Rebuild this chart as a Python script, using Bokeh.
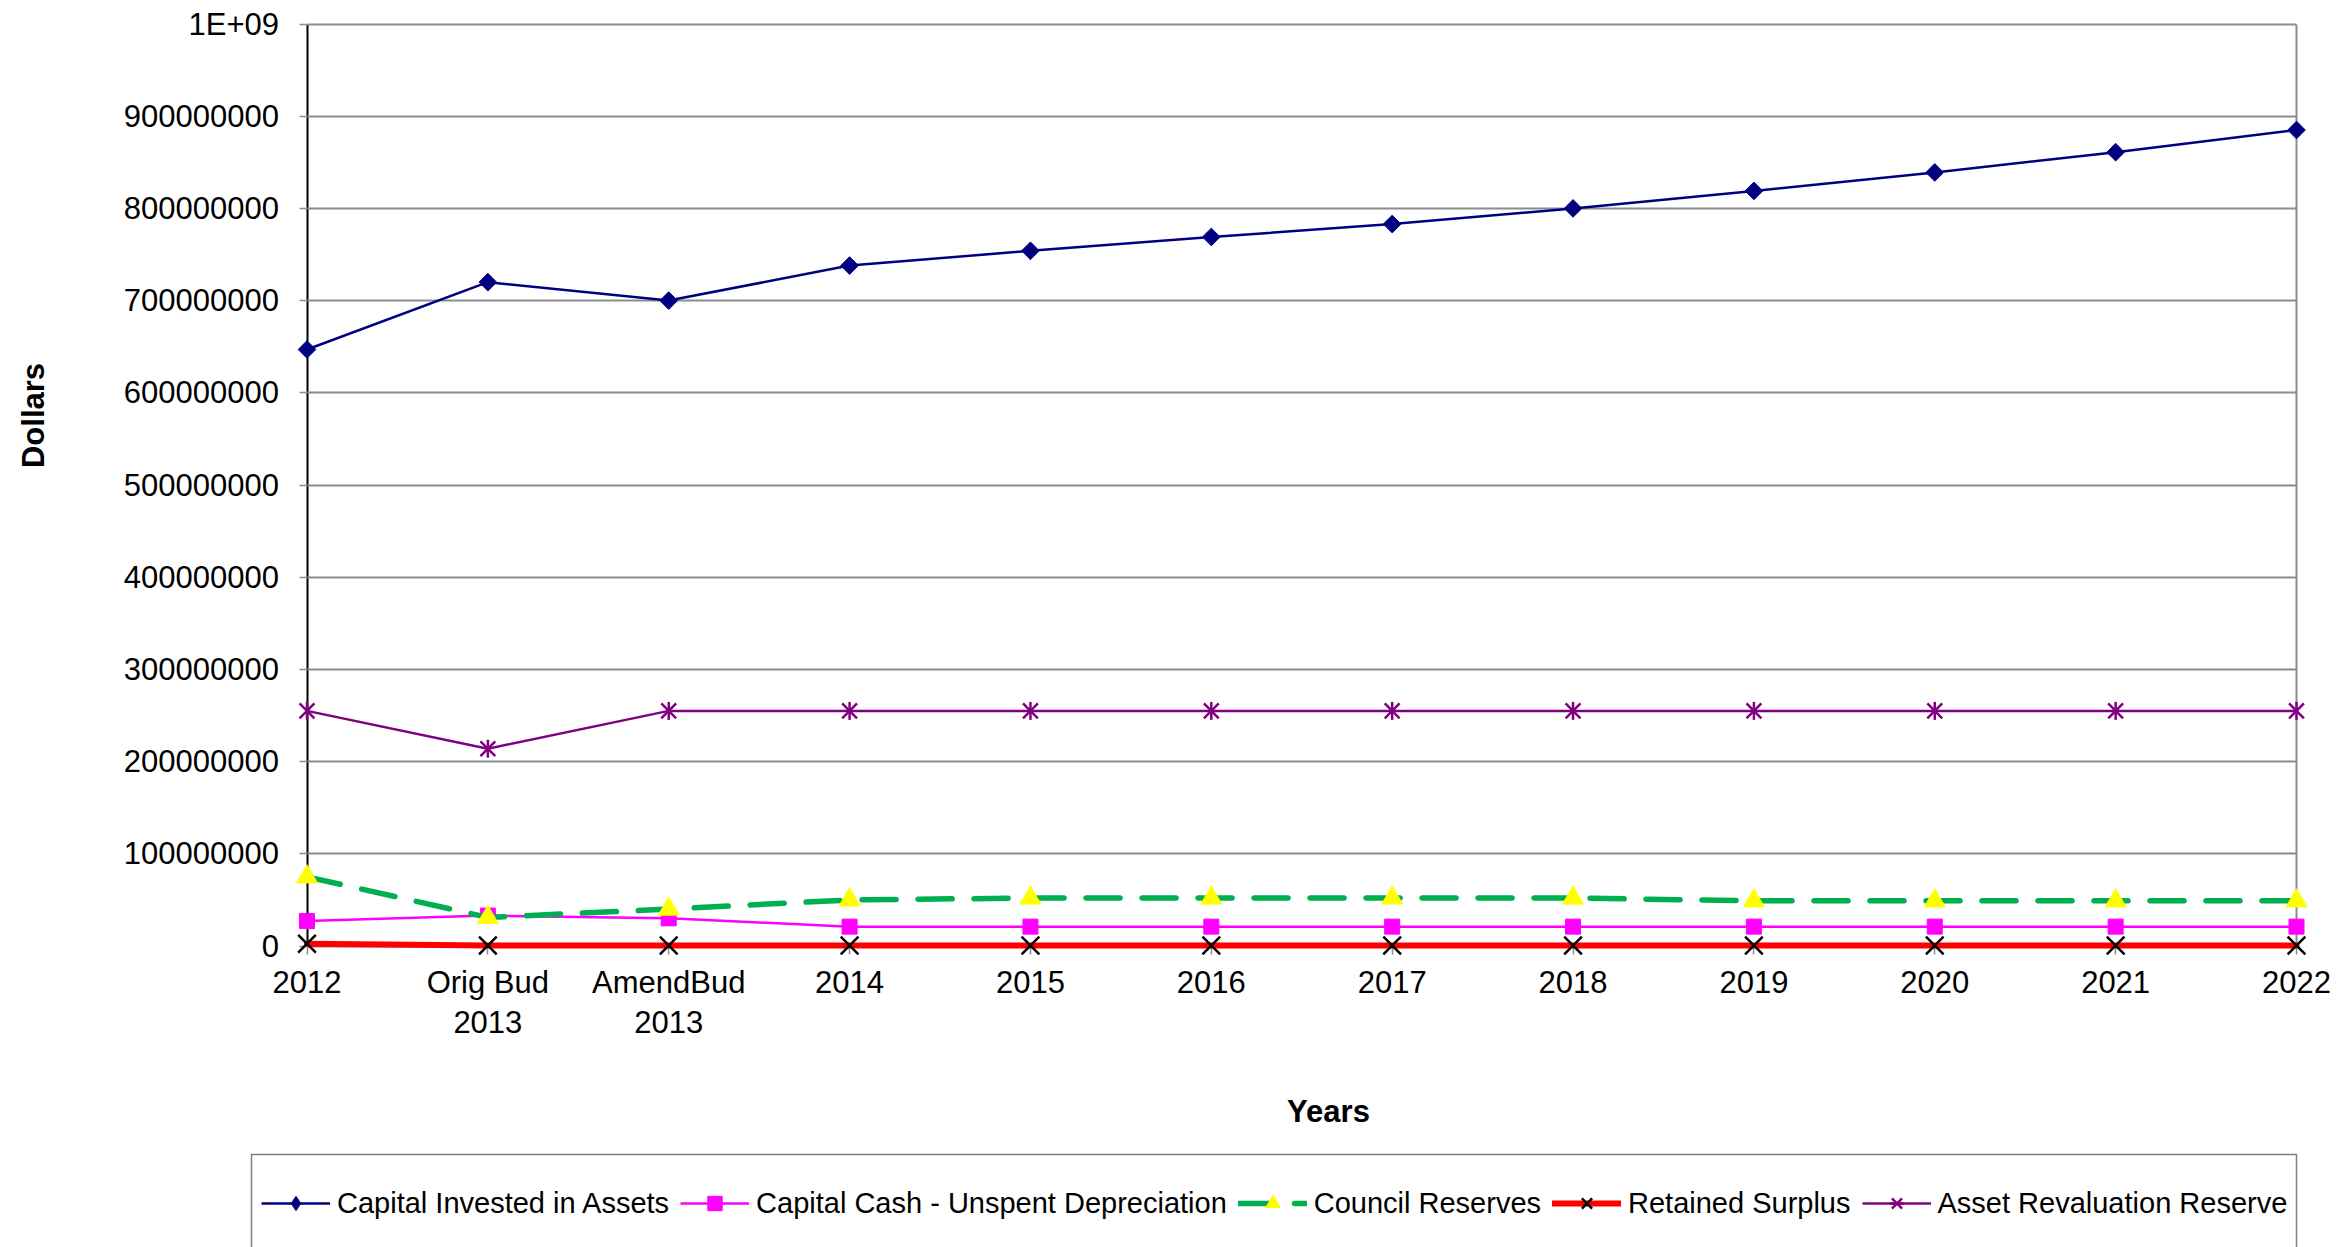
import numpy as np
from bokeh.plotting import figure
from bokeh.models import (ColumnDataSource, Range1d, FixedTicker, Legend,
                          LegendItem, Label, LinearAxis, BoxAnnotation, Grid)
from bokeh.embed import file_html
from bokeh.resources import INLINE

# Reporting periods along the x axis
periods = ["2012", "Orig Bud\n2013", "AmendBud\n2013", "2014", "2015", "2016",
           "2017", "2018", "2019", "2020", "2021", "2022"]

# Equity components, in dollars
capital_invested = [647e6, 720e6, 700e6, 738e6, 754e6, 769e6,
                    783e6, 800e6, 819e6, 839e6, 861e6, 885e6]
capital_cash = [27e6, 33e6, 30e6, 21e6, 21e6, 21e6,
                21e6, 21e6, 21e6, 21e6, 21e6, 21e6]
council_reserves = [75e6, 31e6, 40e6, 50e6, 52e6, 52e6,
                    52e6, 52e6, 49e6, 49e6, 49e6, 49e6]
retained_surplus = [2.5e6, 0.5e6, 0.5e6, 0.5e6, 0.5e6, 0.5e6,
                    0.5e6, 0.5e6, 0.5e6, 0.5e6, 0.5e6, 0.5e6]
asset_revaluation = [255e6, 214e6, 255e6, 255e6, 255e6, 255e6,
                     255e6, 255e6, 255e6, 255e6, 255e6, 255e6]

y_ticks = [0, 100000000, 200000000, 300000000, 400000000, 500000000,
           600000000, 700000000, 800000000, 900000000, 1000000000]
y_tick_labels = ["0", "100000000", "200000000", "300000000", "400000000",
                 "500000000", "600000000", "700000000", "800000000",
                 "900000000", "1E+09"]

FONT = "Liberation Sans"
GRID = "#8c8c8c"

W, H = 2351, 1247
# Plot-area placement on the page (pixels): the frame spans the whole page,
# and the ranges are chosen so the data area lands where wanted.
LEFT_PX, RIGHT_PX, ZERO_PX, TOP_PX = 306.5, 2296.0, 945.5, 23.5

n = len(periods)
xs = list(range(n))
x_last = n - 1
x_per_px = x_last / (RIGHT_PX - LEFT_PX)
y_top = max(y_ticks)
y_per_px = y_top / (ZERO_PX - TOP_PX)
x_range = Range1d(-LEFT_PX * x_per_px, x_last + (W - RIGHT_PX) * x_per_px)
y_range = Range1d(-(H - ZERO_PX) * y_per_px, y_top + TOP_PX * y_per_px)

src = ColumnDataSource(dict(
    x=xs,
    invested=capital_invested,
    cash=capital_cash,
    reserves=council_reserves,
    surplus=retained_surplus,
    revaluation=asset_revaluation,
))

p = figure(width=W, height=H, output_backend="svg", toolbar_location=None,
           x_range=x_range, y_range=y_range,
           min_border_left=0, min_border_right=0,
           min_border_top=0, min_border_bottom=0)
p.background_fill_color = "white"
p.border_fill_color = "white"
p.outline_line_color = None

# Horizontal axis, pinned at zero
p.xaxis.fixed_location = 0
p.xaxis.bounds = (0, x_last)
p.xaxis.ticker = FixedTicker(ticks=xs)
p.xaxis.major_label_overrides = {i: lab for i, lab in enumerate(periods)}
p.xaxis.major_label_text_font = FONT
p.xaxis.major_label_text_font_size = "31px"
p.xaxis.major_label_text_color = "black"
p.xaxis.major_label_text_line_height = 1.14
p.xaxis.major_label_standoff = 11
p.xaxis.major_tick_in = 0
p.xaxis.major_tick_out = 8
p.xaxis.major_tick_line_color = GRID
p.xaxis.major_tick_line_width = 1.5
p.xaxis.minor_tick_line_color = None
p.xaxis.axis_line_color = None
p.xaxis.level = "underlay"

# Vertical axis, pinned at the first period
p.yaxis.fixed_location = 0
p.yaxis.bounds = (0, y_top)
p.yaxis.ticker = FixedTicker(ticks=y_ticks)
p.yaxis.major_label_overrides = {t: lab for t, lab in zip(y_ticks, y_tick_labels)}
p.yaxis.major_label_text_font = FONT
p.yaxis.major_label_text_font_size = "31px"
p.yaxis.major_label_text_color = "black"
p.yaxis.major_label_standoff = 20
p.yaxis.major_tick_in = 0
p.yaxis.major_tick_out = 8
p.yaxis.major_tick_line_color = GRID
p.yaxis.major_tick_line_width = 1.5
p.yaxis.minor_tick_line_color = None
p.yaxis.axis_line_color = "black"
p.yaxis.axis_line_width = 2
p.yaxis.level = "underlay"

# Right-hand border of the plot area
right_edge = LinearAxis(fixed_location=x_last, bounds=(0, y_top),
                        ticker=FixedTicker(ticks=[]),
                        axis_line_color=GRID, axis_line_width=2,
                        major_tick_line_color=None, minor_tick_line_color=None,
                        major_label_text_font_size="0px")
right_edge.level = "underlay"
p.add_layout(right_edge, "right")

p.xgrid.grid_line_color = None
p.ygrid.grid_line_color = GRID
p.ygrid.grid_line_width = 2
if "cross_bounds" in Grid.properties():
    p.ygrid.cross_bounds = (0, x_last)

# Axis titles
p.add_layout(Label(x=33, y=H - 415, x_units="screen", y_units="screen",
                   text="Dollars", angle=np.pi / 2, text_align="center",
                   text_baseline="alphabetic", text_font=FONT,
                   text_font_size="31px", text_font_style="bold",
                   text_color="black"))
p.add_layout(Label(x=1328, y=H - 1111, x_units="screen", y_units="screen",
                   text="Years", text_align="center",
                   text_baseline="alphabetic", text_font=FONT,
                   text_font_size="31px", text_font_style="bold",
                   text_color="black"))

# Series
r_inv_l = p.line("x", "invested", source=src, line_color="#000080", line_width=2.5)
r_inv_m = p.scatter("x", "invested", source=src, marker="square", angle=np.pi / 4,
                    size=12.5, fill_color="#000080", line_color="#000080")
# diamond glyph used for the legend key only
r_inv_key = p.scatter("x", "invested", source=src, marker="diamond", size=17,
                      fill_color="#000080", line_color="#000080", visible=False)

r_cash_l = p.line("x", "cash", source=src, line_color="#FF00FF", line_width=2.5)
r_cash_m = p.scatter("x", "cash", source=src, marker="square", size=15,
                     fill_color="#FF00FF", line_color="#FF00FF")

r_res_l = p.line("x", "reserves", source=src, line_color="#00B050", line_width=5.5,
                 line_dash="34 22", line_cap="round")
r_res_m = p.scatter("x", "reserves", source=src, marker="triangle", size=21,
                    fill_color="#FFFF00", line_color="#FFFF00")

r_sur_l = p.line("x", "surplus", source=src, line_color="#FF0000", line_width=6,
                 line_cap="round")
r_sur_m = p.scatter("x", "surplus", source=src, marker="x", size=25,
                    line_color="black", line_width=2.5)

r_rev_l = p.line("x", "revaluation", source=src, line_color="#800080", line_width=2.5)
r_rev_x = p.scatter("x", "revaluation", source=src, marker="x", size=21,
                    line_color="#800080", line_width=2.5)
r_rev_v = p.scatter("x", "revaluation", source=src, marker="dash", angle=np.pi / 2,
                    size=18, line_color="#800080", line_width=2.5)

# Legend frame, running off the bottom of the page
p.add_layout(BoxAnnotation(left=251, right=RIGHT_PX, top=H - 1154, bottom=-20,
                           left_units="screen", right_units="screen",
                           top_units="screen", bottom_units="screen",
                           fill_color="white", fill_alpha=1.0,
                           line_color="#7f7f7f", line_alpha=1.0, line_width=1.5))

legend = Legend(items=[
    LegendItem(label="Capital Invested in Assets", renderers=[r_inv_l, r_inv_key]),
    LegendItem(label="Capital Cash - Unspent Depreciation", renderers=[r_cash_l, r_cash_m]),
    LegendItem(label="Council Reserves", renderers=[r_res_l, r_res_m]),
    LegendItem(label="Retained Surplus", renderers=[r_sur_l, r_sur_m]),
    LegendItem(label="Asset Revaluation Reserve", renderers=[r_rev_l, r_rev_x, r_rev_v]),
], orientation="horizontal")
ITEM_H = 36
legend.location = (261, H - 1203 - ITEM_H / 2)
legend.label_text_font = FONT
legend.label_text_font_size = "29px"
legend.label_text_color = "black"
legend.glyph_width = 69
legend.glyph_height = ITEM_H
legend.label_height = ITEM_H
legend.label_standoff = 7
legend.spacing = 11
legend.padding = 0
legend.margin = 0
legend.border_line_color = None
legend.background_fill_alpha = 0.0
p.add_layout(legend, "center")

open("out.html", "w").write(file_html(p, INLINE))
